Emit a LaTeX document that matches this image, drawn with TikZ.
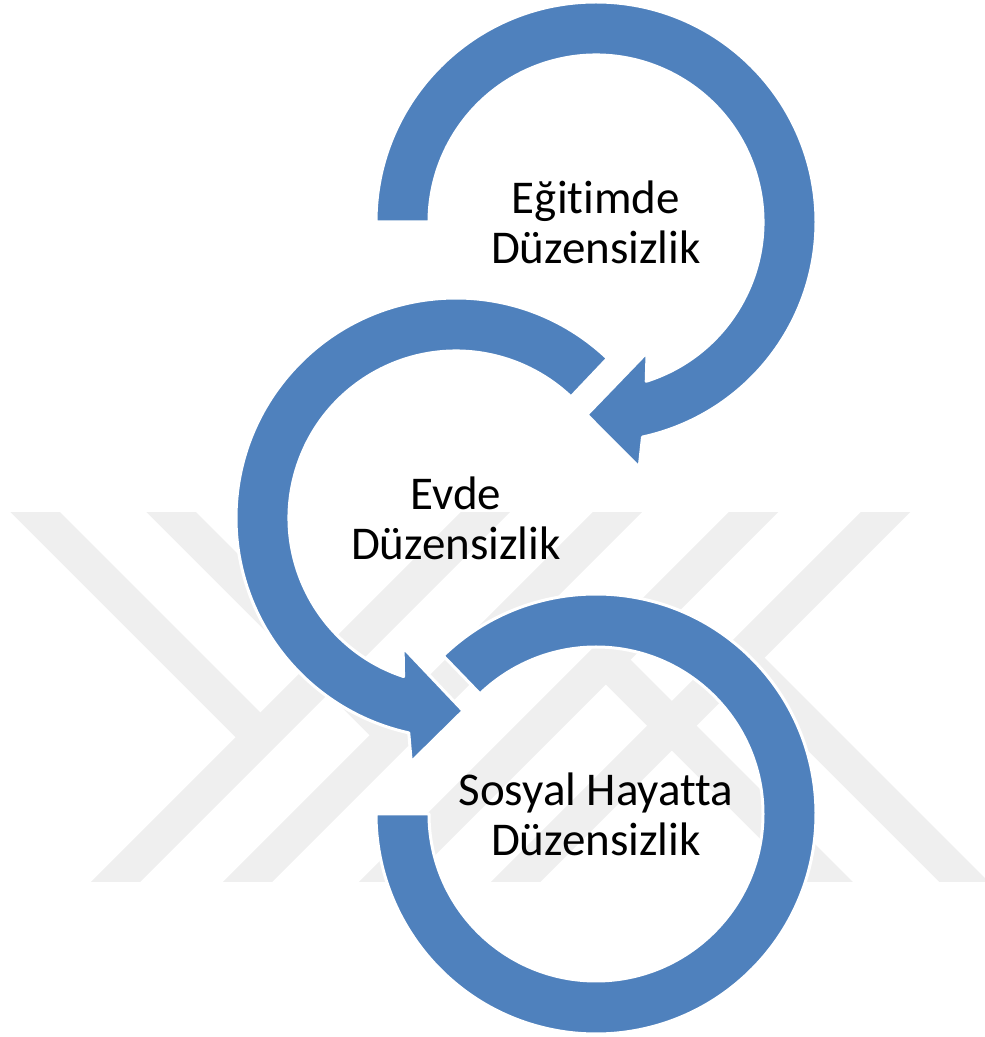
\documentclass[tikz,border=0pt]{standalone}
\usepackage{fontspec}
\setmainfont[Ligatures=NoCommon]{Carlito}
\usetikzlibrary{positioning}
\definecolor{ringblue}{RGB}{79,129,189}
\definecolor{markgray}{RGB}{239,239,239}
\begin{document}
\begin{tikzpicture}[x=1pt, y=1pt, node distance=296pt]
    \tikzstyle{ring} = [fill=ringblue, draw=white, line width=3pt, line join=round]
    \tikzstyle{stage} = [align=center, inner sep=0pt, font=\fontsize{47}{50}\selectfont]
    \tikzstyle{band} = [draw=markgray, line width=35pt]
    \useasboundingbox (0,0) rectangle (985,1037);

    % faint watermark behind the diagram
    \begin{scope}[shift={(500,339.5)}]
        \clip (-500,-184.5) rectangle (485,184.5);
        \foreach \k in {-200,-68,68,200}
            \draw [band] (\k-200,-200) -- (\k+200,200);
        \draw [band] (-479.5,200) -- (-239.75,-39.75);
        \draw [band] (-343.5,200) -- (-105.75,-37.75);
        \draw [band] (479.5,-200) -- (239.75,39.75);
        \draw [band] (343.5,-200) -- (105.75,37.75);
    \end{scope}

    \node (egitim) [stage] at (596,815) {Eğitimde\\Düzensizlik};
    \node (evde) [stage, below of=egitim, xshift=-140pt] {Evde\\Düzensizlik};
    \node (sosyal) [stage, below of=evde, xshift=140pt] {Sosyal Hayatta\\Düzensizlik};

    \begin{scope}[shift={(egitim.center)}]
        \draw [ring] (180:220pt) arc [start angle=180, end angle=-77.8, radius=220pt]
            -- (-80:249pt) -- (-92.7:193pt) -- (-68.6:140pt) -- (-72.5:167pt)
            arc [start angle=-72.5, end angle=180, radius=167pt] -- cycle;
    \end{scope}
    \begin{scope}[shift={(evde.center)}]
        \draw [ring] (46.5:220pt) arc [start angle=46.5, end angle=257.6, radius=220pt]
            -- (259.6:248pt) -- (272.1:193pt) -- (247.8:140pt) -- (251.7:167pt)
            arc [start angle=251.7, end angle=46.5, radius=167pt] -- cycle;
    \end{scope}
    \begin{scope}[shift={(sosyal.center)}]
        \draw [ring] (134:220pt) arc [start angle=134, end angle=-180, radius=220pt]
            -- (-180:167pt) arc [start angle=-180, end angle=134, radius=167pt] -- cycle;
    \end{scope}
\end{tikzpicture}
\end{document}
